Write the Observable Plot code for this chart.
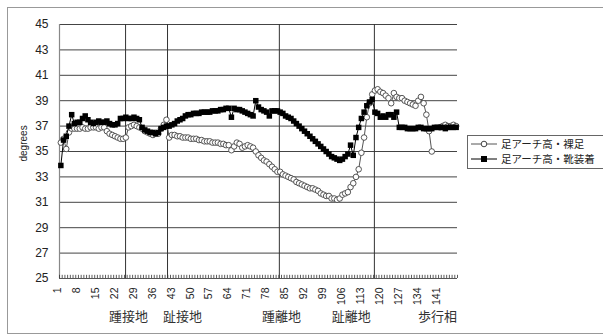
<!DOCTYPE html>
<html><head><meta charset="utf-8">
<script src="https://cdn.jsdelivr.net/npm/d3@7"></script>
<script src="https://cdn.jsdelivr.net/npm/@observablehq/plot@0.6"></script>
<style>
body{margin:0;background:#fff;}
#wrap{position:relative;width:603px;height:336px;overflow:hidden;background:#fff;}
#frame{position:absolute;left:7px;top:7px;width:640px;height:327px;border:1px solid #999;box-sizing:border-box;}
#chart{position:absolute;left:0;top:0;}
#legend{position:absolute;left:467px;top:135px;width:160px;height:34px;border:1px solid #666;box-sizing:border-box;background:#fff;font-family:'Noto Sans CJK JP',sans-serif;font-size:10.5px;color:#222;}
.row{position:absolute;left:2px;height:12px;line-height:12px;white-space:nowrap;}
.row svg{position:absolute;left:0;top:0;}
.row span{position:absolute;left:31px;top:0;}
</style></head>
<body>
<div id="wrap">
  <div id="frame"></div>
  <div id="chart"></div>
  <div id="legend"></div>
</div>
<script>
const categories = d3.range(1, 148);
const seriesNames = ["足アーチ高・裸足", "足アーチ高・靴装着"];
const barefoot = [
 35.7, 36.0, 35.2, 36.5, 36.8, 36.8, 36.8, 36.8, 36.9, 36.8,
 36.8, 36.9, 36.9, 36.9, 36.8, 36.9, 36.9, 36.6, 36.4, 36.3,
 36.2, 36.1, 36.0, 36.0, 36.1, 36.9, 37.0, 37.1, 37.0, 36.9,
 36.8, 36.6, 36.5, 36.4, 36.3, 36.4, 36.4, 36.8, 37.1, 37.5,
 36.1, 36.3, 36.3, 36.2, 36.2, 36.1, 36.1, 36.1, 36.0, 36.0,
 36.0, 35.9, 35.9, 35.8, 35.8, 35.8, 35.7, 35.7, 35.7, 35.6,
 35.6, 35.5, 35.5, 35.1, 35.4, 35.7, 35.6, 35.3, 35.4, 35.5,
 35.4, 35.3, 35.0, 34.7, 34.5, 34.3, 34.2, 34.0, 33.8, 33.6,
 33.4, 33.4, 33.2, 33.1, 33.0, 32.9, 32.8, 32.6, 32.5, 32.4,
 32.3, 32.2, 32.1, 32.1, 32.0, 31.9, 31.7, 31.6, 31.5, 31.5,
 31.3, 31.3, 31.2, 31.3, 31.6, 31.7, 31.8, 32.2, 32.5, 33.0,
 33.6, 34.9, 36.1, 37.7, 38.8, 39.5, 39.8, 39.9, 39.7, 39.6,
 39.4, 39.2, 38.8, 39.6, 39.3, 39.2, 39.2, 39.0, 38.9, 38.8,
 38.7, 38.6, 39.0, 39.3, 38.8, 37.9, 36.6, 35.0, null, null,
 36.9, 37.0, 37.1, 37.0, 37.0, 37.1, 37.0
];
const shoeOn = [
 33.9, 35.9, 36.2, 37.0, 37.9, 37.2, 37.3, 37.3, 37.6, 37.8,
 37.5, 37.3, 37.2, 37.3, 37.4, 37.3, 37.3, 37.4, 37.2, 37.1,
 37.1, 37.2, 37.6, 37.6, 37.7, 37.6, 37.6, 37.7, 37.6, 37.5,
 36.9, 36.7, 36.6, 36.5, 36.5, 36.4, 36.5, 36.8, 36.9, 37.0,
 37.0, 37.1, 37.2, 37.4, 37.5, 37.6, 37.8, 37.9, 37.9, 38.0,
 38.0, 38.0, 38.1, 38.1, 38.1, 38.1, 38.2, 38.2, 38.2, 38.3,
 38.3, 38.4, 38.4, 37.7, 38.4, 38.3, 38.3, 38.2, 38.1, 38.0,
 37.9, 37.8, 39.0, 38.5, 38.3, 38.2, 38.1, 37.8, 38.2, 38.2,
 38.2, 38.1, 38.0, 37.8, 37.7, 37.6, 37.4, 37.2, 37.0, 36.8,
 36.6, 36.4, 36.2, 36.0, 35.8, 35.6, 35.4, 35.2, 35.0, 34.8,
 34.6, 34.5, 34.4, 34.3, 34.4, 34.6, 34.8, 35.5, 34.7, 36.1,
 36.9, 37.6, 38.1, 38.6, 38.9, 39.1, 38.1, 38.0, 37.7, 37.8,
 37.7, 37.9, 37.9, 37.7, 38.1, 36.9, 36.9, 36.9, 36.8, 36.8,
 36.8, 36.8, 36.9, 36.9, 36.8, 36.8, 36.8, 36.8, 36.9, 36.9,
 36.9, 36.9, 36.8, 36.9, 36.9, 36.9, 36.9
];
const yTicks = [25, 27, 29, 31, 33, 35, 37, 39, 41, 43, 45];
const xTickLabels = [1, 8, 15, 22, 29, 36, 43, 50, 57, 64, 71, 78, 85, 92, 99, 106, 113, 120, 127, 134, 141];
const phaseLines = [24.9, 40.4, 81.7, 116.8];
const phaseLabels = ["踵接地", "趾接地", "踵離地", "趾離地", "歩行相"];
const phaseLabelPos = [26, 45.9, 82.5, 108.3, 140.1];
const yTitle = "degrees";

const data = categories.map((c, i) => ({c, bare: barefoot[i], shoe: shoeOn[i]}));
const phases = phaseLabels.map((t, i) => ({t, p: phaseLabelPos[i]}));
const tickPos = [categories[0] - 0.5, ...categories.map(c => c + 0.5)];

const chart = Plot.plot({
  width: 603, height: 336,
  marginLeft: 59, marginRight: 146, marginTop: 24, marginBottom: 58,
  x: {type: "linear", domain: [0.5, 147.5], axis: null},
  y: {domain: [25, 45], axis: null},
  style: {fontFamily: "'Liberation Sans', Arial, sans-serif", background: "transparent", color: "#222"},
  marks: [
    Plot.ruleY(yTicks.filter(d => d > 25), {stroke: "#444", strokeWidth: 1}),
    Plot.ruleX(phaseLines, {stroke: "#333", strokeWidth: 1}),
    Plot.ruleX([0.5], {stroke: "#888", strokeWidth: 1.2}),
    Plot.ruleY([25], {stroke: "#555", strokeWidth: 1}),
    Plot.ruleX(tickPos, {y1: 25, y2: 25.25, stroke: "#333", strokeWidth: 0.8}),
    Plot.text(yTicks, {frameAnchor: "left", y: d => d, text: d => String(d), dx: -11, textAnchor: "end", fontSize: 12, fill: "#222"}),
    Plot.text(xTickLabels, {x: d => d, text: d => String(d), frameAnchor: "bottom", rotate: -90, textAnchor: "end", dy: 9, fontSize: 10.5, fill: "#222"}),
    Plot.text(phases, {x: "p", text: "t", frameAnchor: "bottom", dy: 42, fontSize: 13, fontFamily: "'Noto Sans CJK JP', sans-serif", fill: "#333"}),
    Plot.text([yTitle], {frameAnchor: "left", dx: -36, dy: 10, rotate: -90, fontSize: 10, fill: "#222"}),
    Plot.line(data, {x: "c", y: "bare", stroke: "#555", strokeWidth: 1}),
    Plot.dot(data, {x: "c", y: "bare", r: 2.8, stroke: "#444", fill: "white", strokeWidth: 0.9}),
    Plot.line(data, {x: "c", y: "shoe", stroke: "#000", strokeWidth: 1}),
    Plot.dot(data, {x: "c", y: "shoe", symbol: "square", r: 3.1, fill: "#000", stroke: "none"})
  ]
});
document.getElementById("chart").appendChild(chart);

const legend = document.getElementById("legend");
const symbols = [
  '<svg width="28" height="12"><line x1="1" y1="6" x2="27" y2="6" stroke="#555"/><circle cx="14" cy="6" r="2.8" fill="#fff" stroke="#444"/></svg>',
  '<svg width="28" height="12"><line x1="1" y1="6" x2="27" y2="6" stroke="#000"/><rect x="11" y="3" width="6" height="6" fill="#000"/></svg>'
];
seriesNames.forEach((name, i) => {
  const row = document.createElement("div");
  row.className = "row";
  row.style.top = (2 + i * 15) + "px";
  row.innerHTML = symbols[i];
  const s = document.createElement("span");
  s.textContent = name;
  row.appendChild(s);
  legend.appendChild(row);
});
</script>
</body></html>
